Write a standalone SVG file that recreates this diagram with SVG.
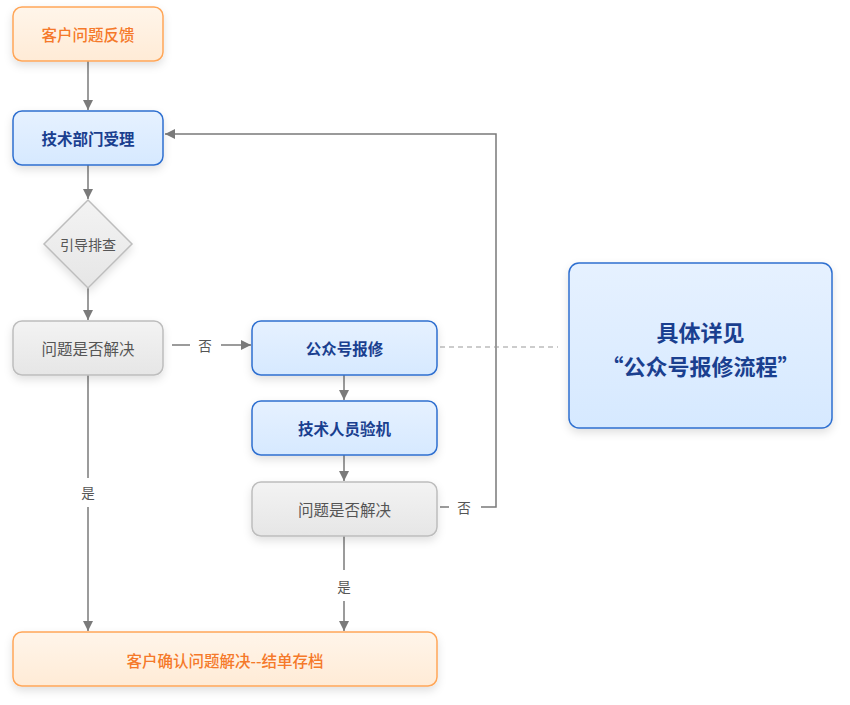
<svg xmlns="http://www.w3.org/2000/svg" width="850" height="705" viewBox="0 0 850 705">
<defs>
<linearGradient id="gOrange" x1="0" y1="0" x2="0" y2="1"><stop offset="0" stop-color="#fff5ea"/><stop offset="1" stop-color="#ffebd6"/></linearGradient>
<linearGradient id="gBlue" x1="0" y1="0" x2="0" y2="1"><stop offset="0" stop-color="#e6f1ff"/><stop offset="1" stop-color="#d6e9ff"/></linearGradient>
<linearGradient id="gGray" x1="0" y1="0" x2="0" y2="1"><stop offset="0" stop-color="#f3f3f3"/><stop offset="1" stop-color="#e6e6e6"/></linearGradient>
<filter id="sh" x="-20%" y="-20%" width="140%" height="160%"><feDropShadow dx="0" dy="4" stdDeviation="4" flood-color="#000" flood-opacity="0.12"/></filter>
<marker id="arr" viewBox="0 0 10 10" refX="10" refY="5" markerWidth="10" markerHeight="10" markerUnits="userSpaceOnUse" orient="auto"><path d="M0,0 L10,5 L0,10 z" fill="#7a7a7a"/></marker>
<style>
.orange rect{fill:url(#gOrange);stroke:#ffa658;stroke-width:1.5;filter:url(#sh)}
.blue rect{fill:url(#gBlue);stroke:#2f6fd0;stroke-width:1.5;filter:url(#sh)}
.gray rect,.gray polygon{fill:url(#gGray);stroke:#bdbdbd;stroke-width:1.5;filter:url(#sh)}
text{font-family:"Noto Sans CJK SC","Noto Sans",sans-serif;text-anchor:middle;dominant-baseline:central;font-size:15.5px}
.orange text{fill:#f5792a;font-weight:500}
.blue text{fill:#1a3f8f;font-weight:700}
.gray text{fill:#555}
.conn line,.conn polyline{stroke:#7a7a7a;stroke-width:1.5;fill:none}
.conn text{fill:#555;font-size:13.5px}
</style>
</defs>
<g class="conn">
<line x1="88" y1="61" x2="88" y2="110" marker-end="url(#arr)"/>
<line x1="88" y1="165" x2="88" y2="199" marker-end="url(#arr)"/>
<line x1="88" y1="288" x2="88" y2="320" marker-end="url(#arr)"/>
<line x1="172" y1="345" x2="190" y2="345"/>
<text x="205" y="345">否</text>
<line x1="221" y1="345" x2="251" y2="345" marker-end="url(#arr)"/>
<line x1="344" y1="375" x2="344" y2="400" marker-end="url(#arr)"/>
<line x1="344" y1="455" x2="344" y2="481" marker-end="url(#arr)"/>
<line x1="88" y1="375" x2="88" y2="478"/>
<text x="88" y="492">是</text>
<line x1="88" y1="507" x2="88" y2="631" marker-end="url(#arr)"/>
<line x1="344" y1="536" x2="344" y2="570"/>
<text x="344" y="586">是</text>
<line x1="344" y1="601" x2="344" y2="631" marker-end="url(#arr)"/>
<line x1="440" y1="507" x2="449" y2="507"/>
<text x="464" y="507">否</text>
<polyline points="481,507 496,507 496,134 165,134" marker-end="url(#arr)"/>
<line x1="440" y1="347" x2="558" y2="347" stroke-dasharray="5,4" style="stroke:#999;stroke-width:1.2"/>
</g>
<g id="n1" class="orange"><rect x="13" y="7" width="150" height="54" rx="9"/><text x="88" y="34">客户问题反馈</text></g>
<g id="n2" class="blue"><rect x="13" y="111" width="150" height="54" rx="9"/><text x="88" y="138">技术部门受理</text></g>
<g id="n3" class="gray"><polygon points="88,200 132,244 88,288 44,244"/><text x="88" y="244" style="font-size:14px">引导排查</text></g>
<g id="n4" class="gray"><rect x="13" y="321" width="150" height="54" rx="9"/><text x="88" y="348">问题是否解决</text></g>
<g id="n5" class="blue"><rect x="252" y="321" width="185" height="54" rx="9"/><text x="344.5" y="348">公众号报修</text></g>
<g id="n6" class="blue"><rect x="252" y="401" width="185" height="54" rx="9"/><text x="344.5" y="428">技术人员验机</text></g>
<g id="n7" class="gray"><rect x="252" y="482" width="185" height="54" rx="9"/><text x="344.5" y="509">问题是否解决</text></g>
<g id="n8" class="blue"><rect x="569" y="263" width="263" height="165" rx="10"/><text x="700.5" y="331" style="font-size:22px">具体详见</text><text x="700.5" y="365" style="font-size:22px">“公众号报修流程”</text></g>
<g id="n9" class="orange"><rect x="13" y="632" width="424" height="54" rx="9"/><text x="225" y="660">客户确认问题解决--结单存档</text></g>
</svg>
